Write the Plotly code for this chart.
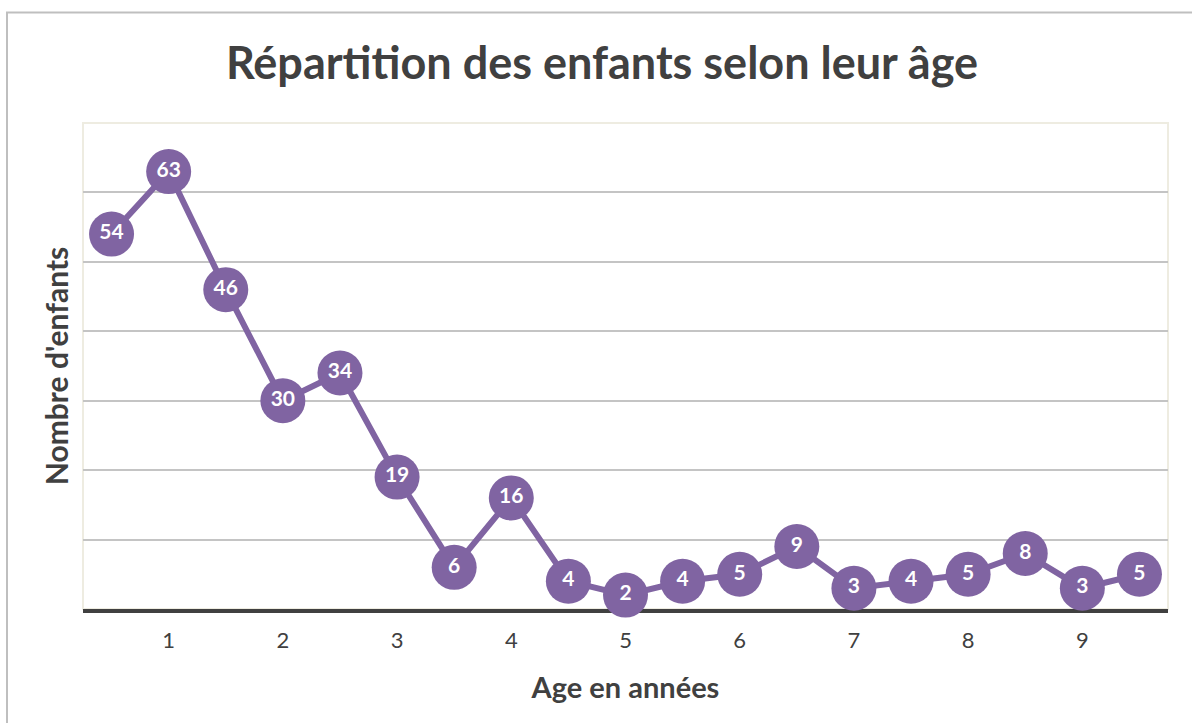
import plotly.graph_objects as go

ages = [0.5, 1, 1.5, 2, 2.5, 3, 3.5, 4, 4.5, 5, 5.5, 6, 6.5, 7, 7.5, 8, 8.5, 9, 9.5]
counts = [54, 63, 46, 30, 34, 19, 6, 16, 4, 2, 4, 5, 9, 3, 4, 5, 8, 3, 5]
tick_vals = [1, 2, 3, 4, 5, 6, 7, 8, 9]
tick_text = ["1", "2", "3", "4", "5", "6", "7", "8", "9"]

title_text = "Répartition des enfants selon leur âge"
x_title = "Age en années"
y_title = "Nombre d'enfants"

PURPLE = "#8064A2"
DARK = "#404040"
FONT = "Lato"

W, H = 1192, 723
L, R, T, B = 83, 24, 123, 114
pw, ph = W - L - R, H - T - B

def px(x):
    return (x - L) / pw

def py(y):
    return (H - B - y) / ph

fig = go.Figure()
fig.add_trace(go.Scatter(
    x=ages, y=counts, mode="lines+markers+text",
    line=dict(color=PURPLE, width=6),
    marker=dict(size=45, color=PURPLE, line=dict(width=0)),
    text=[str(c) for c in counts], textposition="middle center",
    textfont=dict(family=FONT, size=21, color="white", weight="bold"),
    cliponaxis=False, hoverinfo="skip",
))

fig.update_layout(
    width=W, height=H,
    margin=dict(l=L, r=R, t=T, b=B),
    paper_bgcolor="white", plot_bgcolor="white",
    showlegend=False,
    title=dict(text=title_text, x=px(602), xanchor="center", xref="paper",
               y=1 - 63 / H, yanchor="middle", yref="container",
               font=dict(family=FONT, size=45, color=DARK, weight="bold")),
    xaxis=dict(range=[0.25, 9.75], tickmode="array", tickvals=tick_vals, ticktext=tick_text,
               showgrid=False, zeroline=False, showline=True, linecolor=DARK, linewidth=4,
               layer="below traces", ticks="", ticklabelstandoff=9,
               tickfont=dict(family=FONT, size=22, color=DARK),
               title=dict(text=x_title, standoff=26,
                          font=dict(family=FONT, size=29, color=DARK, weight="bold"))),
    yaxis=dict(range=[0, 70], dtick=10, showticklabels=False, showgrid=True,
               gridcolor="#C4C4C4", gridwidth=1.5, zeroline=False, ticks="",
               title=dict(text=y_title, standoff=4,
                          font=dict(family=FONT, size=30, color=DARK, weight="bold"))),
    shapes=[
        dict(type="rect", xref="paper", yref="paper", x0=0, x1=1, y0=0, y1=1,
             line=dict(color="#EEECE1", width=2), layer="below"),
        dict(type="rect", xref="paper", yref="paper", x0=px(7), x1=px(W + 4), y0=py(H + 4), y1=py(12.5),
             line=dict(color="#BFBFBF", width=2), layer="below"),
    ],
)

fig.write_html("out.html", config={"displayModeBar": False},
               post_script="document.body.style.margin='0';")
